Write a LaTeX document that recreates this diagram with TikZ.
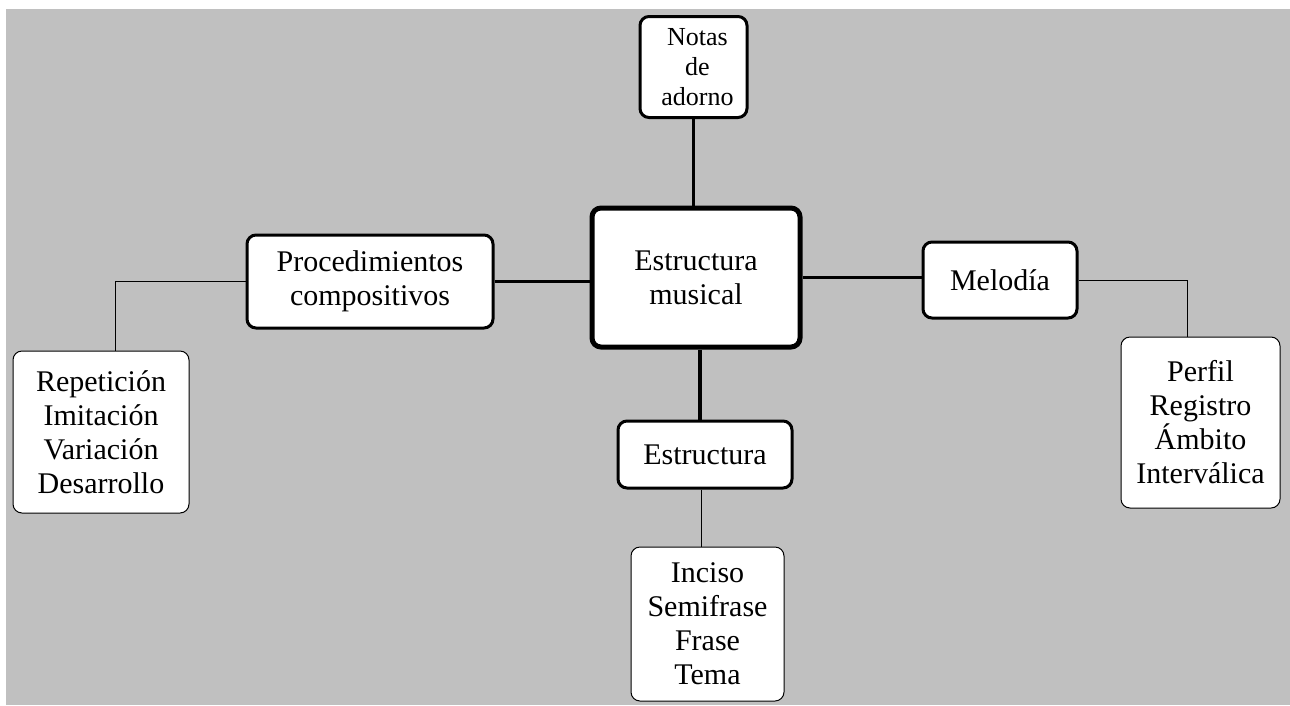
\documentclass[tikz,border=0pt]{standalone}
\usepackage{fontspec}
\setmainfont{Liberation Serif}
\definecolor{fondo}{HTML}{C0C0C0}

\begin{document}
\begin{tikzpicture}[x=1pt,y=-1pt,
		box/.style={draw, fill=white, rounded corners=9pt, align=center, inner sep=0pt,
			font=\fontsize{30}{34}\selectfont},
		central/.style={box, line width=5pt},
		topic/.style={box, line width=3pt},
		list/.style={box, line width=1pt},
		mainlink/.style={line width=3.5pt},
		sublink/.style={line width=1pt}]
			\useasboundingbox (0,0) rectangle (1290,705);
			\fill[fondo] (6,9) rectangle (1290,705);

			% concepto central y ramas
			\node[central, minimum width=208pt, minimum height=139pt] (musical) at (696,277.5) {Estructura\\musical};
			\node[topic, minimum width=107pt, minimum height=101pt, font=\fontsize{26}{30}\selectfont] (adorno) at (693.5,67) {\hspace{8pt}Notas\\\hspace{8pt}de\\\hspace{8pt}adorno};
			\node[topic, minimum width=246pt, minimum height=93pt] (proc) at (370,281.5) {Procedimientos\\compositivos};
			\node[topic, minimum width=154pt, minimum height=76pt] (melodia) at (1000,280) {Melodía};
			\node[topic, minimum width=174pt, minimum height=67pt] (estructura) at (705,454.5) {Estructura};

			% listas
			\node[list, minimum width=176pt, minimum height=162pt] (procedimientos) at (101,432) {Repetición\\Imitación\\Variación\\Desarrollo};
			\node[list, minimum width=159pt, minimum height=171pt] (rasgos) at (1200.5,422.5) {Perfil\\Registro\\Ámbito\\Interválica};
			\node[list, minimum width=153pt, minimum height=154pt] (partes) at (707.5,624) {Inciso\\Semifrase\\Frase\\Tema};

			\draw[mainlink] (adorno.south) -- (adorno.south |- musical.north);
			\draw[mainlink] (proc.east) -- (proc.east -| musical.west);
			\draw[mainlink] (musical.east) -- (musical.east -| melodia.west);
			\draw[mainlink] ([xshift=4pt]musical.south) -- ([xshift=4pt]musical.south |- estructura.north);

			\draw[sublink] (proc.west) -| ([xshift=14pt]procedimientos.north);
			\draw[sublink] (melodia.east) -| ([xshift=-13pt]rasgos.north);
			\draw[sublink] ([xshift=-4pt]estructura.south) -- ([xshift=-4pt]estructura.south |- partes.north);
		\end{tikzpicture}
\end{document}
